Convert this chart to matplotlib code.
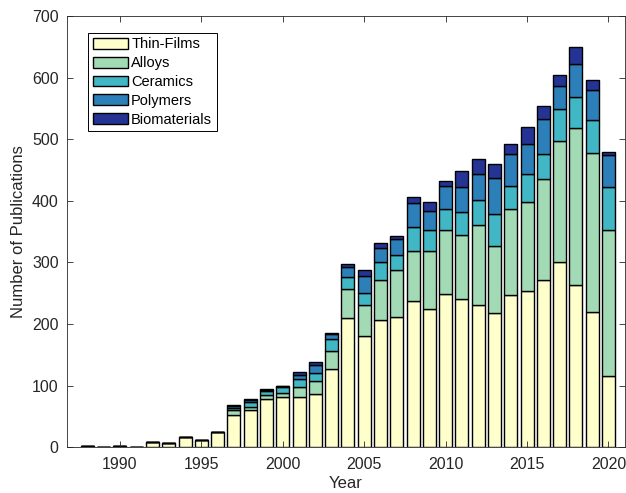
import numpy as np
import matplotlib
matplotlib.use("Agg")
import matplotlib.pyplot as plt

years = list(range(1988, 2021))

# per-category counts
thin_films = [2, 1, 2, 1, 8, 6, 16, 12, 24, 53, 60, 79, 82, 82, 86, 127,
              210, 181, 207, 211, 237, 224, 248, 241, 231, 218, 247, 254,
              272, 300, 264, 220, 115]
alloys = [0, 0, 0, 0, 0, 0, 0, 0, 0, 8, 5, 5, 6, 15, 22, 30,
          47, 50, 64, 76, 82, 95, 104, 104, 130, 109, 140, 144,
          164, 198, 254, 258, 237]
ceramics = [0, 0, 0, 0, 0, 0, 0, 0, 0, 3, 9, 8, 9, 13, 13, 19,
            19, 19, 30, 25, 38, 33, 35, 37, 41, 52, 38, 45,
            41, 51, 51, 53, 70]
polymers = [0, 0, 0, 0, 0, 0, 0, 0, 0, 3, 2, 1, 2, 8, 12, 8,
            16, 28, 23, 26, 40, 31, 37, 40, 41, 59, 51, 50,
            56, 38, 54, 50, 52]
biomaterials = [0, 0, 0, 0, 0, 0, 0, 0, 0, 1, 2, 1, 1, 4, 5, 2,
                6, 10, 7, 5, 9, 15, 8, 27, 25, 22, 17, 27,
                22, 17, 27, 16, 6]

labels = ["Thin-Films", "Alloys", "Ceramics", "Polymers", "Biomaterials"]
colors = ["#ffffcc", "#a1dab4", "#41b6c4", "#2c7fb8", "#253494"]

plt.rcParams["font.family"] = ["Liberation Sans", "DejaVu Sans"]

fig = plt.figure(figsize=(6.26, 4.93), dpi=100, facecolor="white")
ax = fig.add_axes([0.107, 0.093, 0.891, 0.874])

bottom = np.zeros(len(years))
for vals, lab, col in zip([thin_films, alloys, ceramics, polymers, biomaterials],
                          labels, colors):
    vals = np.array(vals, dtype=float)
    ax.bar(years, vals, width=0.8, bottom=bottom, color=col,
           edgecolor="black", linewidth=1.0, label=lab)
    bottom += vals

ax.set_xlim(1986.75, 2021.0)
ax.set_ylim(0, 700)
ax.set_xticks(range(1990, 2021, 5))
ax.set_yticks(range(0, 701, 100))
ax.tick_params(direction="in", top=True, right=True, length=4,
               labelsize=11.5, color="#262626", labelcolor="#262626", width=0.6)
ax.tick_params(axis="x", pad=7)
ax.tick_params(axis="y", pad=6)
for sp in ax.spines.values():
    sp.set_color("#262626")
    sp.set_linewidth(0.6)

ax.set_xlabel("Year", fontsize=12, color="#262626", labelpad=3)
ax.set_ylabel("Number of Publications", fontsize=12, color="#262626", labelpad=4)

leg = ax.legend(loc="upper left", bbox_to_anchor=(0.038, 0.961), fontsize=10.5,
                fancybox=False, framealpha=1, edgecolor="black",
                handlelength=2.4, handleheight=0.75, handletextpad=0.25,
                labelspacing=0.33, borderpad=0.3, borderaxespad=0)
leg.get_frame().set_linewidth(0.7)

fig.savefig("out.png", dpi=100, facecolor="white")
